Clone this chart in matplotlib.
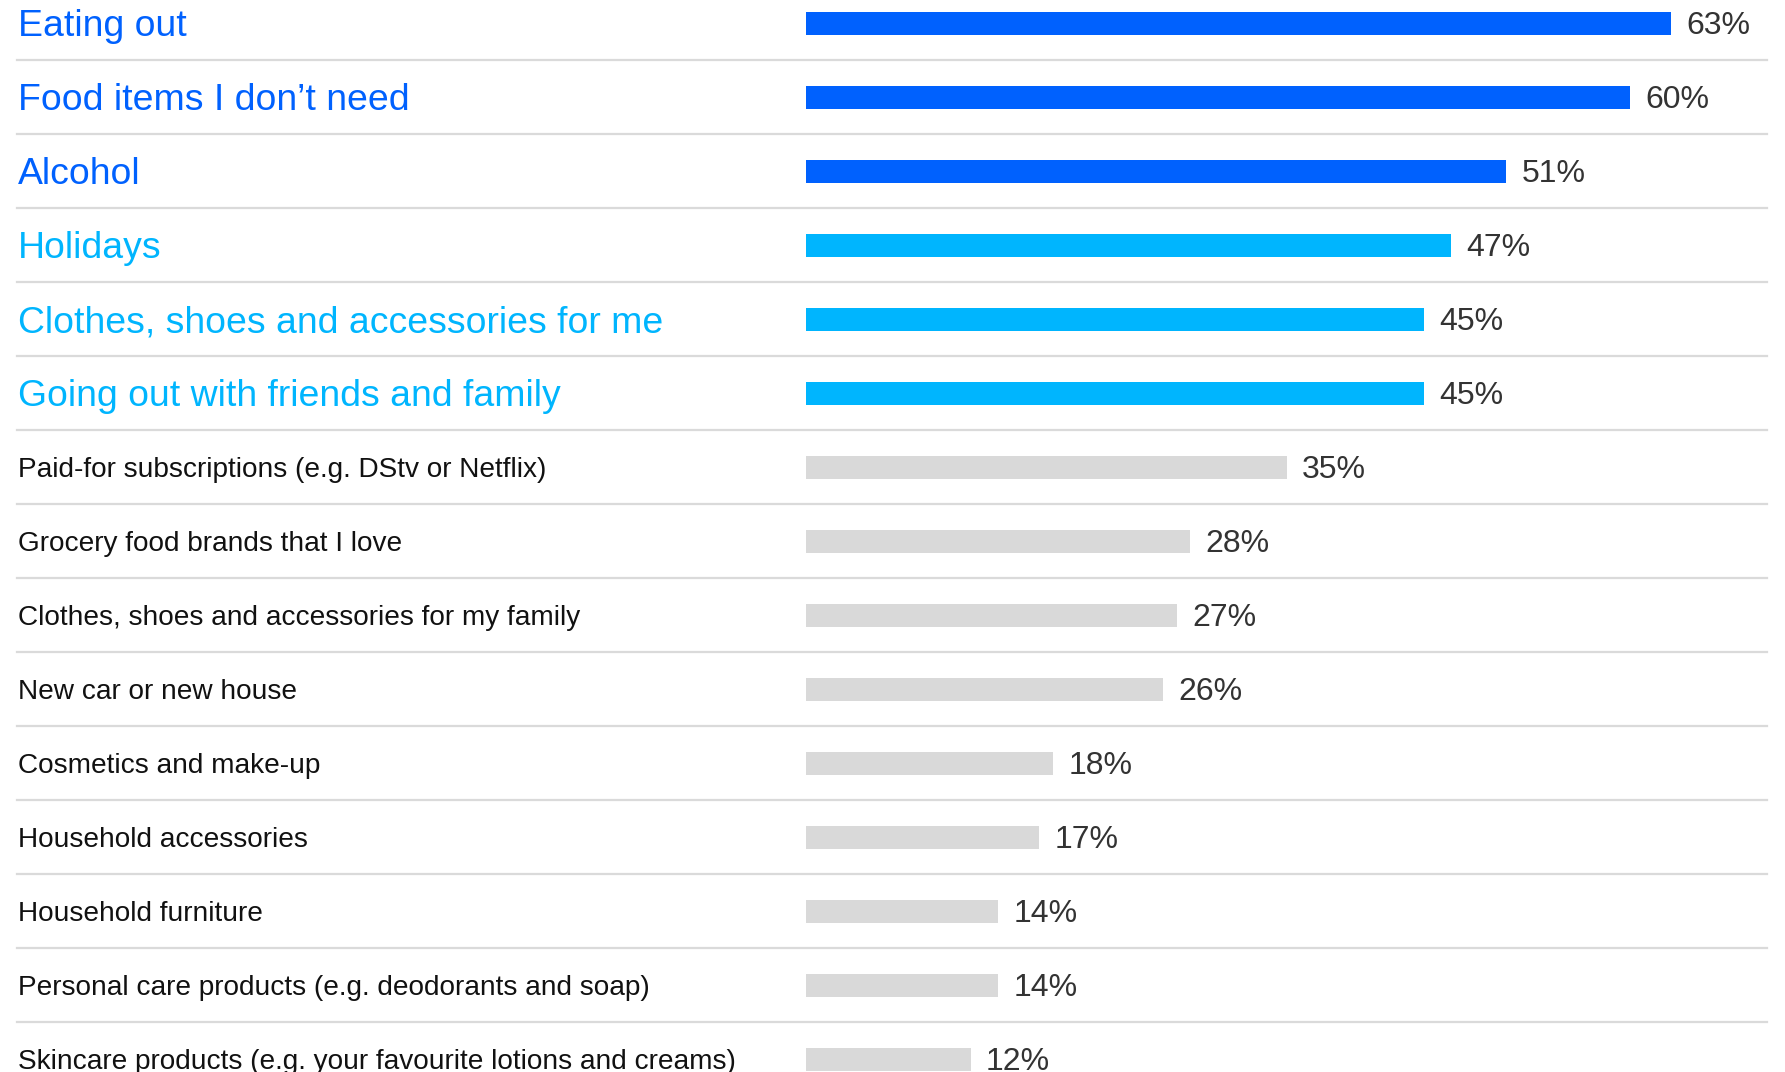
import matplotlib.pyplot as plt
import matplotlib.transforms as mtransforms

categories = [
    "Eating out",
    "Food items I don\u2019t need",
    "Alcohol",
    "Holidays",
    "Clothes, shoes and accessories for me",
    "Going out with friends and family",
    "Paid-for subscriptions (e.g. DStv or Netflix)",
    "Grocery food brands that I love",
    "Clothes, shoes and accessories for my family",
    "New car or new house",
    "Cosmetics and make-up",
    "Household accessories",
    "Household furniture",
    "Personal care products (e.g. deodorants and soap)",
    "Skincare products (e.g. your favourite lotions and creams)",
]
values = [63, 60, 51, 47, 45, 45, 35, 28, 27, 26, 18, 17, 14, 14, 12]
# 0 = top tier, 1 = second tier, 2 = the rest
tiers = [0, 0, 0, 1, 1, 1, 2, 2, 2, 2, 2, 2, 2, 2, 2]

bar_colors = ["#0061FE", "#00B5FE", "#D9D9D9"]
label_colors = ["#0061FE", "#00B5FE", "#111111"]
label_sizes = [26.9, 26.9, 20.2]

plt.rcParams['font.family'] = ['Liberation Sans', 'DejaVu Sans']

W, H = 1785, 1072
fig = plt.figure(figsize=(W / 100, H / 100), dpi=100)

# bar axis: zero at x=806px, 13.73 px per percent; rows 74px apart, first at 23px
x0 = 806
ppu = 13.73
ax = fig.add_axes([x0 / W, 0, 1 - x0 / W, 1])
ax.set_xlim(0, (W - x0) / ppu)
ax.set_ylim((H - 23) / 74, -23 / 74)
ax.axis('off')

rows = list(range(len(categories)))
ax.barh(rows, values, height=23 / 74, color=[bar_colors[t] for t in tiers])

# separators run across the full width of the figure
trans = mtransforms.blended_transform_factory(fig.transFigure, ax.transData)
for r in rows[:-1]:
    ax.plot([17 / W, 1767 / W], [r + 0.5, r + 0.5], transform=trans,
            color="#DADADA", lw=1.6, clip_on=False, zorder=0)

for r, cat, v, t in zip(rows, categories, values, tiers):
    ax.text(18 / W, r, cat, transform=trans, ha='left', va='center_baseline',
            fontsize=label_sizes[t], color=label_colors[t])
    ax.annotate(f"{v}%", xy=(v, r), xytext=(11, 0), textcoords='offset points',
                ha='left', va='center_baseline', fontsize=23, color="#333333")

fig.savefig("out.png", dpi=100)
